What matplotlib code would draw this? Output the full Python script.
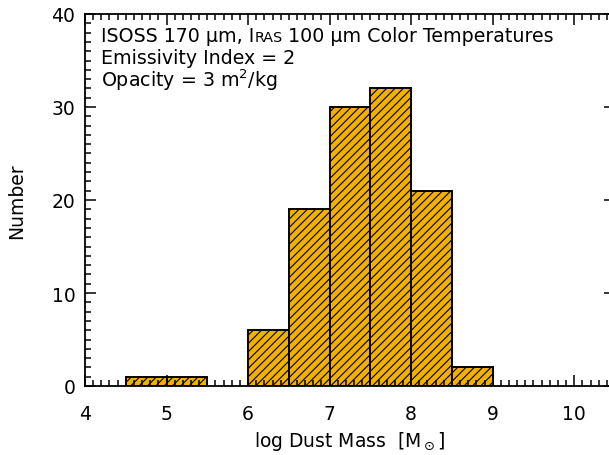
import numpy as np
import matplotlib
matplotlib.use("Agg")
import matplotlib.pyplot as plt
from matplotlib.ticker import MultipleLocator
from matplotlib.transforms import offset_copy

# histogram of log dust mass
bin_left = [4.5, 5.0, 6.0, 6.5, 7.0, 7.5, 8.0, 8.5]
counts = [1, 1, 6, 19, 30, 32, 21, 2]
bin_width = 0.5

plt.rcParams["font.family"] = ["DejaVu Sans"]
plt.rcParams["mathtext.fontset"] = "dejavusans"
plt.rcParams["hatch.linewidth"] = 0.8

fig = plt.figure(figsize=(6.09, 4.56), dpi=100)
ax = fig.add_axes([85 / 609, 1 - 387 / 456, (615 - 85) / 609, (387 - 15) / 456])

ax.bar(bin_left, counts, width=bin_width, align="edge", color="#F2B000",
       edgecolor="black", linewidth=1.4, hatch="////")

ax.set_xlim(4, 10.5)
ax.set_ylim(0, 40)
ax.xaxis.set_major_locator(MultipleLocator(1))
ax.xaxis.set_minor_locator(MultipleLocator(0.1))
ax.yaxis.set_major_locator(MultipleLocator(10))
ax.yaxis.set_minor_locator(MultipleLocator(1))
ax.tick_params(which="both", direction="in", top=True, right=True, width=1.1,
               labelsize=13.5, colors="black")
ax.tick_params(which="major", length=8)
ax.tick_params(axis="x", which="major", pad=13)
ax.tick_params(axis="y", which="major", pad=7)
ax.tick_params(which="minor", length=4)
for s in ax.spines.values():
    s.set_linewidth(1.3)

ax.set_xlabel(r"log Dust Mass  [M$_\odot$]", fontsize=13.5, labelpad=4)
ax.set_ylabel("Number", fontsize=13.5, labelpad=18)

# annotation, with small caps for IRAS
fs = 13.7
x0 = 0.03
t = ax.text(x0, 0.927, "ISOSS 170 \u03bcm, I", transform=ax.transAxes,
            fontsize=fs, va="baseline")
fig.canvas.draw()
r = fig.canvas.get_renderer()
w = t.get_window_extent(r).width
t2 = ax.text(x0, 0.927, "RAS", fontsize=fs * 0.75, va="baseline",
             transform=offset_copy(ax.transAxes, fig=fig, x=w * 72 / fig.dpi, y=0, units="points"))
fig.canvas.draw()
w2 = t2.get_window_extent(r).width
ax.text(x0, 0.927, " 100 \u03bcm Color Temperatures", fontsize=fs, va="baseline",
        transform=offset_copy(ax.transAxes, fig=fig, x=(w + w2) * 72 / fig.dpi, y=0, units="points"))
ax.text(x0, 0.868, "Emissivity Index = 2", transform=ax.transAxes,
        fontsize=fs, va="baseline")
ax.text(x0, 0.807, "Opacity = 3 m$^2$/kg", transform=ax.transAxes,
        fontsize=fs, va="baseline")

fig.savefig("out.png", dpi=100)
